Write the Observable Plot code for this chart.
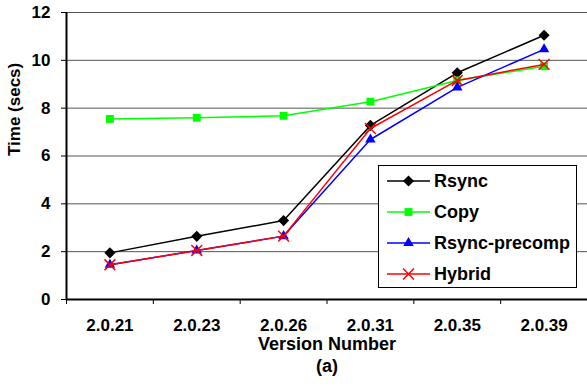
<!DOCTYPE html>
<html>
<head>
<meta charset="utf-8">
<script src="https://cdn.jsdelivr.net/npm/d3@7"></script>
<script src="https://cdn.jsdelivr.net/npm/@observablehq/plot@0.6"></script>
<style>
  html, body { margin: 0; padding: 0; background: #fff; }
  #wrap { position: relative; width: 587px; height: 386px; font-family: "Liberation Sans", Arial, sans-serif; }
  #legend { position: absolute; left: 378px; top: 165px; width: 197px; height: 121px; border: 1px solid #000; background: #fff; box-sizing: content-box; }
  .row { position: absolute; left: 0; height: 24px; display: flex; align-items: center; }
  .row span { font-weight: bold; font-size: 18px; margin-left: 4px; color: #000; }
</style>
</head>
<body>
<div id="wrap"><div id="legend"></div></div>
<script>
const versions = ["2.0.21", "2.0.23", "2.0.26", "2.0.31", "2.0.35", "2.0.39"];
const seriesNames = ["Rsync", "Copy", "Rsync-precomp", "Hybrid"];
const rsync = [1.95, 2.64, 3.3, 7.28, 9.48, 11.05];
const copy = [7.55, 7.6, 7.68, 8.27, 9.16, 9.75];
const rsyncPrecomp = [1.45, 2.05, 2.65, 6.69, 8.87, 10.46];
const hybrid = [1.45, 2.05, 2.65, 7.15, 9.16, 9.83];
const yTicks = [0, 2, 4, 6, 8, 10, 12];
const colors = ["#000000", "#00ff00", "#0000ff", "#ff0000"];
const symbols = ["diamond2", "square2", "triangle2", "times"];

const valuesBySeries = [rsync, copy, rsyncPrecomp, hybrid];
const data = [];
seriesNames.forEach((s, k) => valuesBySeries[k].forEach((v, i) => data.push({series: s, i, value: v})));
const idx = versions.map((_, i) => i);
const bounds = d3.range(versions.length + 1).map(i => i - 0.5);
const font = "'Liberation Sans', Arial, sans-serif";

const marks = [
  Plot.gridY(yTicks, {stroke: "#555", strokeOpacity: 1, strokeWidth: 1}),
  Plot.axisY(yTicks, {tickSize: 5, tickPadding: 11, fontSize: 17, fontWeight: "bold", label: null, stroke: "#000"}),
  Plot.axisX(bounds, {tickSize: 5, tickFormat: () => "", label: null}),
  Plot.axisX(idx, {tickSize: 0, tickPadding: 19, tickFormat: i => versions[i], fontSize: 17, fontWeight: "bold", label: null}),
  Plot.ruleX([bounds[0]], {stroke: "#000", strokeWidth: 2}),
  Plot.ruleY([0], {stroke: "#000", strokeWidth: 2}),
  Plot.text(["Version Number"], {frameAnchor: "bottom", dy: 50, fontSize: 18, fontWeight: "bold", fill: "#000"}),
  Plot.text(["(a)"], {frameAnchor: "bottom", dy: 72, fontSize: 18, fontWeight: "bold", fill: "#000"}),
  Plot.text(["Time (secs)"], {frameAnchor: "left", dx: -52, rotate: -90, fontSize: 17, fontWeight: "bold", fill: "#000"})
];
seriesNames.forEach((s, k) => {
  const d = data.filter(r => r.series === s);
  marks.push(Plot.line(d, {x: "i", y: "value", stroke: colors[k], strokeWidth: 1.5}));
  if (symbols[k] === "times") {
    marks.push(Plot.dot(d, {x: "i", y: "value", symbol: "times", r: 5, stroke: colors[k], strokeWidth: 1.5, fill: "none"}));
  } else {
    marks.push(Plot.dot(d, {x: "i", y: "value", symbol: symbols[k], r: 5, fill: colors[k], stroke: "none"}));
  }
});

const chart = Plot.plot({
  width: 587,
  height: 386,
  marginLeft: 66,
  marginRight: 0,
  marginTop: 12,
  marginBottom: 87,
  style: {fontFamily: font, color: "#000", background: "#fff"},
  x: {type: "linear", domain: [bounds[0], bounds[bounds.length - 1]], axis: null},
  y: {domain: [0, 12], axis: null},
  marks
});
const wrap = document.getElementById("wrap");
chart.style.position = "absolute";
chart.style.left = "0";
chart.style.top = "0";
wrap.insertBefore(chart, wrap.firstChild);

// legend
const legend = document.getElementById("legend");
seriesNames.forEach((s, k) => {
  const row = document.createElement("div");
  row.className = "row";
  row.style.top = (3 + k * 31) + "px";
  row.style.left = "8px";
  const svg = d3.create("svg").attr("width", 43).attr("height", 24);
  svg.append("line").attr("x1", 0).attr("x2", 43).attr("y1", 12).attr("y2", 12).attr("stroke", colors[k]).attr("stroke-width", 1.5);
  const symMap = {diamond2: d3.symbolDiamond2, square2: d3.symbolSquare2, triangle2: d3.symbolTriangle2, times: d3.symbolTimes};
  const p = svg.append("path").attr("transform", "translate(21.5,12)").attr("d", d3.symbol(symMap[symbols[k]], Math.PI * 25)());
  if (symbols[k] === "times") p.attr("fill", "none").attr("stroke", colors[k]).attr("stroke-width", 1.5);
  else p.attr("fill", colors[k]);
  row.appendChild(svg.node());
  const t = document.createElement("span");
  t.textContent = s;
  row.appendChild(t);
  legend.appendChild(row);
});
</script>
</body>
</html>
